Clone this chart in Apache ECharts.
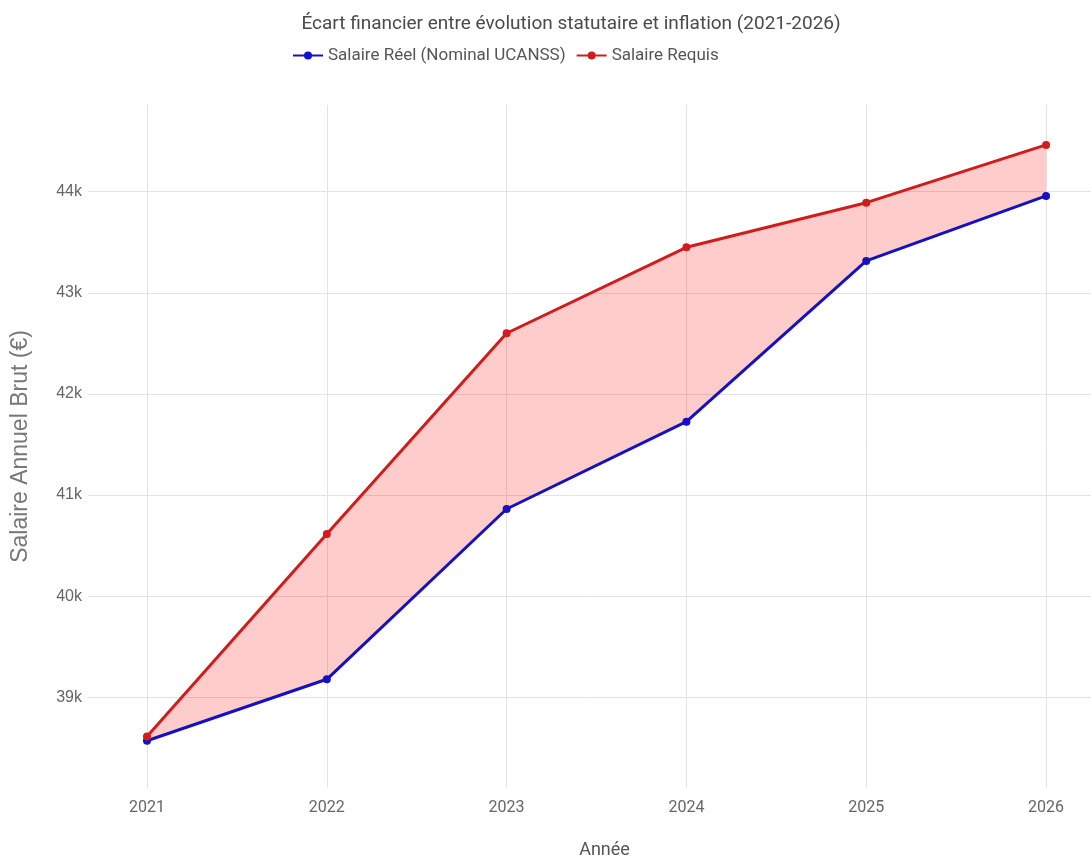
<!DOCTYPE html>
<html>
<head>
<meta charset="utf-8">
<script src="https://cdn.jsdelivr.net/npm/echarts@6/dist/echarts.min.js"></script>
<style>
  html, body { margin: 0; padding: 0; background: #fff; }
  #chart { width: 1091px; height: 858px; }
</style>
</head>
<body>
<div id="chart"></div>
<script>
// Annual gross salary: actual statutory path vs. the level needed to keep up with inflation
const years = [2021, 2022, 2023, 2024, 2025, 2026];
const salaireReel = [38570, 39178, 40862, 41725, 43315, 43958];
const salaireRequis = [38612, 40615, 42600, 43450, 43891, 44462];
const yTicks = [39000, 40000, 41000, 42000, 43000, 44000];

const REEL = 'Salaire Réel (Nominal UCANSS)';
const REQUIS = 'Salaire Requis';
const BLUE = '#1410c4';
const RED = '#d21c1c';

const pairs = (vals) => years.map((y, i) => [y, vals[i]]);

// Shaded band between the two salary curves
function renderGap(params, api) {
  if (params.dataIndex !== 0) return null;
  const top = years.map((y, i) => api.coord([y, salaireRequis[i]]));
  const bottom = years.map((y, i) => api.coord([y, salaireReel[i]])).reverse();
  return {
    type: 'polygon',
    shape: { points: top.concat(bottom) },
    style: { fill: 'rgba(255, 0, 0, 0.2)', stroke: 'none' }
  };
}

const chart = echarts.init(document.getElementById('chart'));
chart.setOption({
  animation: false,
  backgroundColor: '#ffffff',
  title: {
    text: 'Écart financier entre évolution statutaire et inflation (2021-2026)',
    left: 566,
    textAlign: 'center',
    top: 10,
    textStyle: { fontFamily: 'Roboto', fontSize: 19, fontWeight: 'normal', color: '#4a4a4a' }
  },
  legend: {
    top: 42,
    left: 287,
    itemWidth: 30,
    itemHeight: 10,
    itemGap: 10,
    data: [REEL, REQUIS],
    textStyle: { fontFamily: 'Roboto', fontSize: 17, color: '#555' }
  },
  grid: { left: 88, right: 0, top: 105, bottom: 70, outerBoundsMode: 'none', containLabel: false },
  xAxis: {
    type: 'value',
    min: 2020.672,
    max: 2026.25,
    minInterval: 1,
    maxInterval: 1,
    name: 'Année',
    nameLocation: 'middle',
    nameGap: 53,
    nameTextStyle: { fontFamily: 'Roboto', fontSize: 18, color: '#555', padding: [0, 0, 0, 30] },
    axisLine: { show: false },
    axisTick: { show: false },
    axisLabel: {
      showMinLabel: false,
      showMaxLabel: false,
      margin: 12,
      fontFamily: 'Roboto',
      fontSize: 16,
      color: '#666',
      formatter: (v) => (years.indexOf(Math.round(v)) >= 0 && Math.abs(v - Math.round(v)) < 1e-6) ? String(Math.round(v)) : ''
    },
    splitLine: { show: true, showMinLine: false, showMaxLine: false, lineStyle: { color: '#e3e3e3', width: 1 } }
  },
  yAxis: {
    type: 'value',
    min: 38103,
    max: 44857,
    minInterval: 1000,
    maxInterval: 1000,
    name: 'Salaire Annuel Brut (€)',
    nameLocation: 'middle',
    nameGap: 56,
    nameTextStyle: { fontFamily: 'Liberation Sans', fontSize: 23, color: '#777' },
    axisLine: { show: false },
    axisTick: { show: false },
    axisLabel: {
      showMinLabel: false,
      showMaxLabel: false,
      margin: 6,
      fontFamily: 'Liberation Sans',
      fontSize: 16,
      color: '#666',
      formatter: (v) => yTicks.indexOf(Math.round(v)) >= 0 ? (Math.round(v) / 1000) + 'k' : ''
    },
    splitLine: { show: true, showMinLine: false, showMaxLine: false, lineStyle: { color: '#e3e3e3', width: 1 } }
  },
  series: [
    {
      name: 'ecart',
      type: 'custom',
      data: [[years[0], salaireReel[0]]],
      renderItem: renderGap,
      silent: true,
      clip: true,
      z: 1
    },
    {
      name: REEL,
      type: 'line',
      data: pairs(salaireReel),
      color: BLUE,
      symbol: 'circle',
      symbolSize: 8,
      lineStyle: { width: 3, color: BLUE },
      itemStyle: { color: BLUE },
      z: 3
    },
    {
      name: REQUIS,
      type: 'line',
      data: pairs(salaireRequis),
      color: RED,
      symbol: 'circle',
      symbolSize: 8,
      lineStyle: { width: 3, color: RED },
      itemStyle: { color: RED },
      z: 4
    }
  ]
});
</script>
</body>
</html>
